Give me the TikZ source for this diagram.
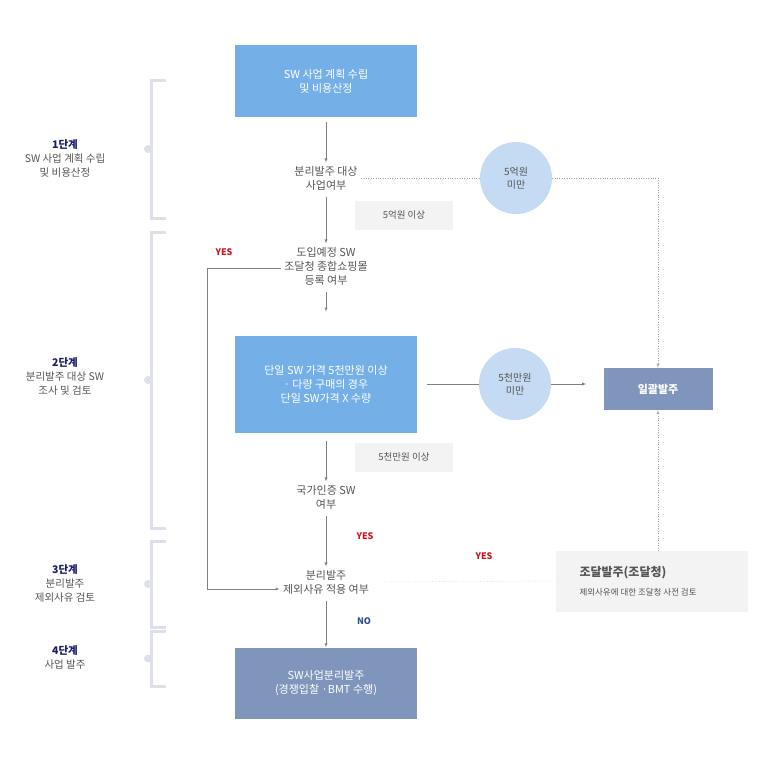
\documentclass[tikz,border=0pt]{standalone}
\usepackage{fontspec}
\setmainfont{Noto Sans CJK KR}
\usepackage{tikz}
\definecolor{skyblue}{HTML}{74AFE8}
\definecolor{paleblue}{HTML}{C5DBF4}
\definecolor{slate}{HTML}{7F95BC}
\definecolor{lightgray}{HTML}{F3F3F3}
\definecolor{txtgray}{HTML}{555555}
\definecolor{navy}{HTML}{1A1A6E}
\definecolor{bracketgray}{HTML}{DDE0E8}
\definecolor{yesred}{HTML}{D0121B}
\definecolor{noblue}{HTML}{2F4F8F}
\tikzset{
  bluebox/.style={fill=skyblue,text=white,minimum width=182pt,align=center,font=\fontsize{11}{14}\selectfont},
  slatebox/.style={fill=slate,text=white,align=center,font=\fontsize{11}{14}\selectfont},
  question/.style={text=txtgray,align=center,font=\fontsize{11}{14}\selectfont},
  limit/.style={circle,fill=paleblue,minimum size=72pt,text=txtgray,align=center,font=\fontsize{10}{13}\selectfont},
  tag/.style={fill=lightgray,text=txtgray,minimum width=98pt,minimum height=29pt,font=\fontsize{9.5}{12}\selectfont},
  stage/.style={text=txtgray,align=center,font=\fontsize{10.5}{14}\selectfont},
  flow/.style={draw=gray,-latex},
  dots/.style={draw=gray!70,dotted},
  bracket/.style={draw=bracketgray,line width=3pt},
}
\begin{document}
\begin{tikzpicture}[x=1pt,y=-1pt]
	\useasboundingbox (0,0) rectangle (764,756);

	\node[bluebox,minimum height=72pt] (plan) at (326,81) {SW 사업 계획 수립\\및 비용산정};
	\node[question] (target) at (326,178) {분리발주 대상\\사업여부};
	\node[limit] (c1) at (516,178) {5억원\\미만};
	\node[tag] (t1) at (404,215) {5억원 이상};
	\node[question] (mall) at (326,266) {도입예정 SW\\조달청 종합쇼핑몰\\등록 여부};
	\node[bluebox,minimum height=97pt] (price) at (326,384) {단일 SW 가격 5천만원 이상\\· 다량 구매의 경우\\단일 SW가격 X 수량};
	\node[limit] (c2) at (515,384) {5천만원\\미만};
	\node[slatebox,minimum width=109pt,minimum height=42pt] (bulk) at (658,389) {\textbf{일괄발주}};
	\node[tag] (t2) at (404,457) {5천만원 이상};
	\node[question] (cert) at (326,497) {국가인증 SW\\여부};
	\node[question] (except) at (326,582) {분리발주\\제외사유 적용 여부};
	\node[fill=lightgray,minimum width=192pt,minimum height=61pt] (pps) at (652,581) {};
	\node[text=txtgray,anchor=west,font=\fontsize{12}{14}\selectfont\bfseries] (ppst) at (576,573) {조달발주(조달청)};
	\node[text=txtgray,anchor=west,font=\fontsize{8.5}{10}\selectfont] (ppss) at (576,592) {제외사유에 대한 조달청 사전 검토};
	\node[slatebox,minimum width=182pt,minimum height=71pt] (order) at (326,683) {SW사업분리발주\\(경쟁입찰 ·BMT 수행)};

	\node[text=yesred,font=\bfseries\small] (y1) at (224,252) {YES};
	\node[text=yesred,font=\bfseries\small] (y2) at (365,536) {YES};
	\node[text=yesred,font=\bfseries\small] (y3) at (484,556) {YES};
	\node[text=noblue,font=\bfseries\small] (n1) at (364,621) {NO};

	% main column
	\draw[flow] (plan.south) ++(0,5) -- (target.north);
	\draw[flow] (target.south) ++(0,3) -- (mall.north);
	\draw[flow] (mall.south) ++(0,3) -- ++(0,20);
	\draw[flow] (price.south) ++(0,8) -- (cert.north);
	\draw[flow] (cert.south) ++(0,3) -- (except.north);
	\draw[flow] (except.south) ++(0,3) -- (order.north);

	\coordinate (bend1) at (207,268);
	\coordinate (bend2) at (207,589);
	\draw[flow] (mall.west |- bend1) -- (bend1) -- (bend2) -- (except.west |- bend2);

	\draw[dots] (target.east) -- (c1);
	\draw[dots,-latex] (c1.east) -- (bulk.north |- c1) -- (bulk.north);
	\draw[draw=gray] (price.east) ++(10,0) -- (c2.west);
	\draw[flow] (c2.east) -- ++(35,0);
	\draw[dots] (except.east) -- (pps.west);
	\draw[dots,-latex] (pps.north -| bulk) -- (bulk.south);

	% stages
	\foreach \top/\bot in {80/218, 232/528, 541/627, 631/686}{
		\draw[bracket] (166,\top) -- (151,\top) -- (151,\bot) -- (166,\bot);
		\fill[bracketgray] (148,{(\top+\bot)/2}) circle (4);
	}
	\node[stage] (s1) at (65,158) {\textcolor{navy}{\textbf{1단계}}\\SW 사업 계획 수립\\및 비용산정};
	\node[stage] (s2) at (65,376) {\textcolor{navy}{\textbf{2단계}}\\분리발주 대상 SW\\조사 및 검토};
	\node[stage] (s3) at (65,583) {\textcolor{navy}{\textbf{3단계}}\\분리발주\\제외사유 검토};
	\node[stage] (s4) at (65,657) {\textcolor{navy}{\textbf{4단계}}\\사업 발주};
\end{tikzpicture}
\end{document}
